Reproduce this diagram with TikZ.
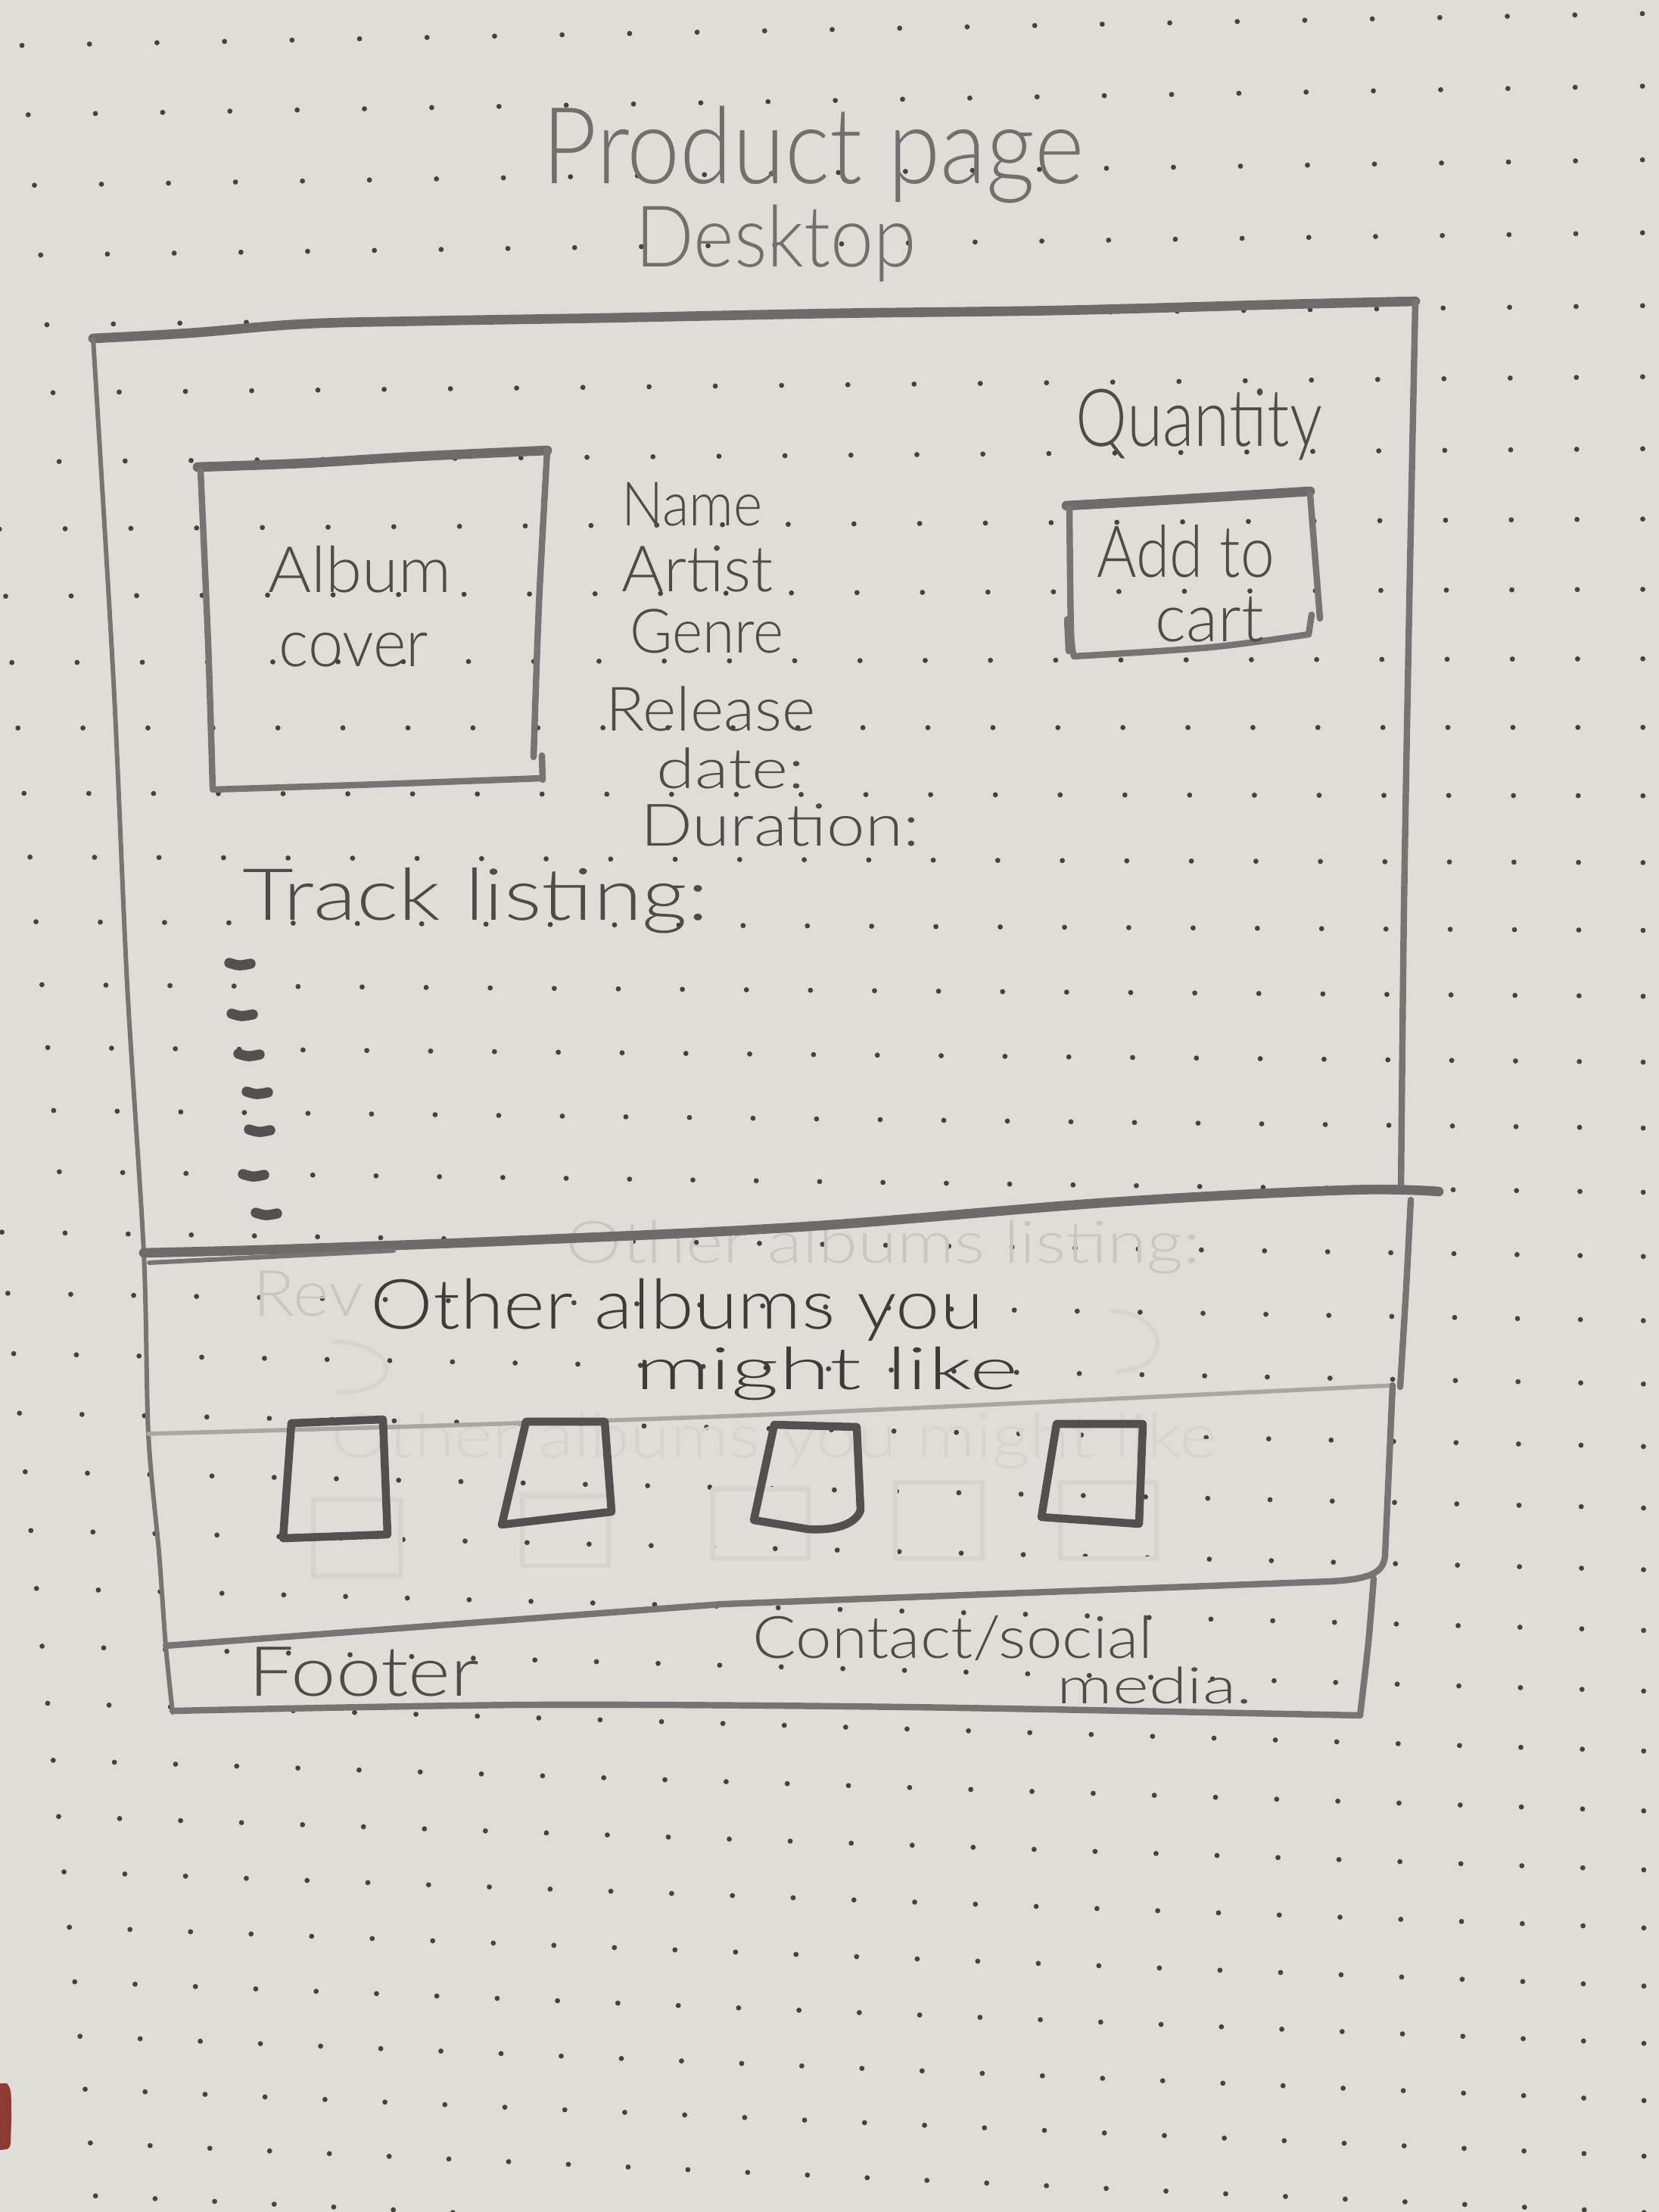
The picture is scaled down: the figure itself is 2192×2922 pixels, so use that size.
\documentclass[tikz,border=0pt]{standalone}
\usepackage{fontspec}
\usepackage{graphicx}
\newfontfamily\handfont{Lato Light}
% hand lettering: fixed width, natural height
\newcommand\handtext[3]{\resizebox{#1}{\height}{\fontsize{#2}{#2}\selectfont\handfont #3}}

\definecolor{paper}{HTML}{E0DDD9}
\definecolor{dotink}{HTML}{45423F}
\definecolor{penA}{HTML}{777573}
\definecolor{penB}{HTML}{6E6C6A}
\definecolor{penC}{HTML}{53514F}
\definecolor{penF}{HTML}{AAA7A3}
\definecolor{ghost}{HTML}{CAC6C1}
\definecolor{ghostB}{HTML}{D7D4CF}
\definecolor{inkA}{HTML}{72706E}
\definecolor{inkB}{HTML}{4E4C4A}
\definecolor{inkC}{HTML}{3E3C3B}
\definecolor{markred}{HTML}{8E3A32}

\begin{document}
\begin{tikzpicture}[x=0.01cm, y=-0.01cm, line cap=round, line join=round,
  thinpen/.style={draw=penA, line width=1.7pt},
  midpen/.style={draw=penA, line width=2.4pt},
  thickpen/.style={draw=penB, line width=3.6pt},
  boxpen/.style={draw=penC, line width=3pt},
  trackmark/.style={draw=penC, line width=3.8pt},
  faintpen/.style={draw=penF, line width=1.6pt},
  ghostpen/.style={draw=ghostB, line width=1.5pt},
  hw/.style={inner sep=0pt, anchor=base west, text=inkB},
]
% paper
\fill[paper] (0,0) rectangle (2192,2922);
\useasboundingbox (0,0) rectangle (2192,2922);

% dot grid of the notebook page (slightly in perspective)
\begin{scope}
  \clip (0,0) rectangle (2192,2922);
  \foreach \j in {0,...,35}{
    \pgfmathsetmacro\t{(1-exp(-0.0086*\j))/(1-exp(-0.2666))}
    \pgfmathsetmacro\lx{29+\t*229}
    \pgfmathsetmacro\ly{60+\t*2562}
    \pgfmathsetmacro\rx{2170+\t*2}
    \pgfmathsetmacro\ry{18+\t*2679}
    \foreach \i in {-2,...,25}{
      \pgfmathsetmacro\u{\i/24}
      \fill[dotink] ({\lx+(\u)*(\rx-\lx)},{\ly+(\u)*(\ry-\ly)}) circle (0.034cm);
    }
  }
\end{scope}

% red corner of something lying under the page
\fill[markred] (0,2752) -- (9,2752) .. controls (15,2760) .. (15,2800)
  -- (14,2832) .. controls (12,2839) .. (0,2840) -- cycle;

% erased earlier sketch, still faintly visible
\node[hw, text=ghost] (ghostrev) at (334,1738) {\handtext{1.45cm}{24pt}{Rev}};
\node[hw, text=ghost] (ghostlist) at (747,1668) {\handtext{8.38cm}{22pt}{Other albums listing:}};
\node[hw, text=ghostB] (ghostlike) at (437,1925) {\handtext{11.7cm}{23pt}{Other albums you might like}};
\draw[ghostpen] (1470,1732) .. controls (1545,1735) and (1550,1810) .. (1478,1811);
\draw[ghostpen] (440,1772) .. controls (530,1775) and (535,1840) .. (448,1839);
\draw[ghostpen] (414,1981) rectangle (529,2082);
\draw[ghostpen] (690,1976) rectangle (804,2068);
\draw[ghostpen] (942,1967) rectangle (1068,2059);
\draw[ghostpen] (1183,1958) rectangle (1298,2059);
\draw[ghostpen] (1401,1958) rectangle (1528,2059);

% ---- page frame ----
% top edge
\draw[thickpen] plot[smooth, tension=0.6] coordinates
  {(123,447) (250,440) (400,428) (560,424) (800,420) (1100,414) (1400,410) (1700,402) (1870,398)};
% right edge of the product section
\draw[midpen] plot[smooth] coordinates {(1870,398) (1862,800) (1855,1200) (1851,1574)};
% left edge, all the way down to the footer
\draw[thinpen] plot[smooth] coordinates
  {(123,447) (150,900) (168,1300) (190,1655) (196,1894) (210,2050) (219,2174) (228,2262)};
% divider under the product section
\draw[thickpen] plot[smooth, tension=0.6] coordinates
  {(190,1655) (380,1650) (700,1638) (1068,1620) (1470,1588) (1780,1572) (1901,1574)};
\draw[thinpen] (197,1668) -- (520,1652);
% "other albums" band
\draw[midpen] plot[smooth] coordinates {(1864,1585) (1858,1700) (1850,1832)};
\draw[faintpen] plot[smooth] coordinates {(196,1894) (954,1871) (1840,1830)};
% albums row box, bending into the footer top
\draw[midpen] (1840,1830) -- (1830,2055) .. controls (1828,2078) and (1810,2086) .. (1757,2089)
  -- (954,2119) -- (219,2174);
% footer
\draw[midpen] plot[smooth] coordinates {(228,2260) (700,2252) (1200,2255) (1797,2266)};
\draw[midpen] plot[smooth] coordinates {(1797,2266) (1808,2170) (1815,2085)};

% album cover box
\draw[thickpen] plot[smooth] coordinates {(261,617) (400,612) (550,603) (723,595)};
\draw[midpen] plot[smooth] coordinates {(265,622) (275,850) (281,1041)};
\draw[midpen] plot[smooth] coordinates {(281,1043) (500,1036) (716,1028)};
\draw[midpen] plot[smooth] coordinates {(723,595) (712,800) (705,1000)};
\draw[midpen] (716,998) -- (717,1030);

% add to cart button
\draw[thickpen] plot[smooth] coordinates {(1409,668) (1550,660) (1731,649)};
\draw[midpen] plot[smooth] coordinates {(1413,672) (1415,833) (1419,867)};
\draw[midpen] plot[smooth] coordinates {(1419,867) (1600,855) (1729,838)};
\draw[midpen] (1729,838) -- (1733,812);
\draw[midpen] (1731,653) -- (1744,817);
\draw[midpen] (1410,818) -- (1412,860);

% track list placeholders
\foreach \x/\y in {316/1273, 319/1340, 328/1393, 339/1443, 342/1493, 334/1552, 351/1603}
  \draw[trackmark] ({\x-13},{\y-1}) .. controls ({\x},{\y+3}) .. ({\x+15},{\y});

% recommended album thumbnails
\draw[boxpen] (385,1880) -- (506,1875) -- (512,2027) -- (374,2032) -- cycle;
\draw[boxpen] (695,1878) -- (799,1878) -- (808,1997) -- (663,2014) -- cycle;
\draw[boxpen] (1023,1882) -- (1132,1885) -- (1137,1995)
  .. controls (1130,2015) and (1100,2022) .. (1068,2020) -- (996,2008) -- cycle;
\draw[boxpen] (1396,1881) -- (1510,1881) -- (1505,2013) -- (1376,2004) -- cycle;

% ---- lettering ----
\node[hw, text=inkA] (title) at (716,243) {\handtext{7.15cm}{40pt}{Product page}};
\node[hw, text=inkA] (subtitle) at (839,353) {\handtext{3.71cm}{32pt}{Desktop}};
\node[hw] (qty) at (1421,590) {\handtext{3.25cm}{30pt}{Quantity}};
\node[hw] (addA) at (1449,763) {\handtext{2.34cm}{27pt}{Add to}};
\node[hw] (addB) at (1526,847) {\handtext{1.43cm}{25pt}{cart}};
\node[hw] (albumA) at (354,782) {\handtext{2.42cm}{24pt}{Album}};
\node[hw] (albumB) at (368,880) {\handtext{1.97cm}{25pt}{cover}};
\node[hw] (name) at (821,695) {\handtext{1.86cm}{23pt}{Name}};
\node[hw] (artist) at (821,782) {\handtext{2.00cm}{24pt}{Artist}};
\node[hw] (genre) at (832,862) {\handtext{2.03cm}{23pt}{Genre}};
\node[hw] (release) at (800,965) {\handtext{2.77cm}{23pt}{Release}};
\node[hw] (date) at (867,1041) {\handtext{1.96cm}{21pt}{date:}};
\node[hw] (duration) at (846,1117) {\handtext{3.68cm}{22pt}{Duration:}};
\node[hw] (tracks) at (320,1215) {\handtext{6.15cm}{27pt}{Track listing:}};
\node[hw, text=inkC] (otherA) at (489,1755) {\handtext{8.09cm}{26pt}{Other albums you}};
\node[hw, text=inkC] (otherB) at (839,1835) {\handtext{5.05cm}{22pt}{might like}};
\node[hw] (footer) at (328,2240) {\handtext{3.04cm}{26pt}{Footer}};
\node[hw] (contact) at (994,2190) {\handtext{5.28cm}{22pt}{Contact/social}};
\node[hw] (media) at (1396,2250) {\handtext{2.58cm}{19pt}{media.}};
\end{tikzpicture}
\end{document}
